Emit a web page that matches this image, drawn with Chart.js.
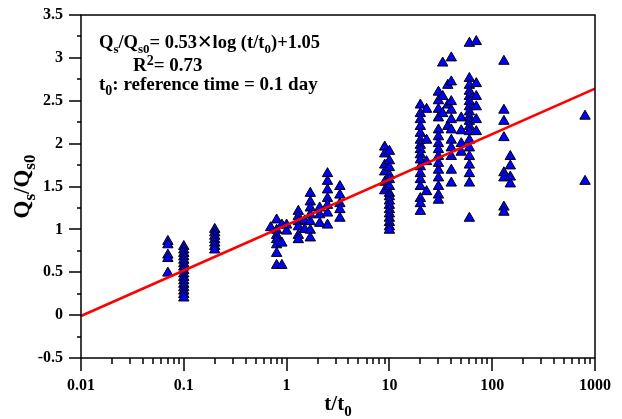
<!DOCTYPE html>
<html>
<head>
<meta charset="utf-8">
<script src="https://cdn.jsdelivr.net/npm/chart.js@4"></script>
<style>
  html, body { margin: 0; padding: 0; background: #fff; }
  #wrap { width: 622px; height: 419px; }
</style>
</head>
<body>
<div id="wrap"><canvas id="chart" width="622" height="419"></canvas></div>
<script>
// t/t0 of each measured column
const tValues = [0.07, 0.1, 0.2, 0.7, 0.8, 0.9, 1, 1.3, 1.5, 1.7, 2.1, 2.5, 3.3,
  9, 10, 20, 23, 30, 33, 37, 40, 50, 60, 70, 130, 150, 800];

// Qs/Qs0 readings for each column above
const qValues = [
  [0.86, 0.82, 0.7, 0.66, 0.49],
  [0.8, 0.76, 0.72, 0.68, 0.64, 0.6, 0.56, 0.52, 0.48, 0.44, 0.4, 0.36, 0.32, 0.28, 0.24, 0.2],
  [1.0, 0.96, 0.92, 0.88, 0.84, 0.8, 0.76],
  [1.02],
  [1.11, 0.99, 0.93, 0.88, 0.82, 0.72, 0.58],
  [1.05, 0.84, 0.58],
  [1.05, 0.98],
  [1.21, 1.15, 1.09, 1.03, 0.93, 0.88],
  [1.1, 1.0],
  [1.42, 1.32, 1.25, 1.17, 1.09, 0.99, 0.9],
  [1.25, 1.17, 1.07],
  [1.65, 1.56, 1.46, 1.36, 1.28, 1.19, 1.05],
  [1.5, 1.4, 1.3, 1.23, 1.13],
  [1.96, 1.88, 1.75, 1.67, 1.55, 1.45],
  [1.91, 1.8, 1.72, 1.63, 1.58, 1.5, 1.42, 1.38, 1.33, 1.28, 1.23, 1.18, 1.13, 1.08, 1.03, 0.99],
  [2.45, 2.35, 2.28, 2.2, 2.12, 2.04, 1.98, 1.93, 1.87, 1.81, 1.73, 1.65, 1.58, 1.5, 1.36, 1.3, 1.21],
  [2.4, 2.04, 1.79, 1.44],
  [2.6, 2.5, 2.4, 2.3, 2.16, 2.08, 2.0, 1.93, 1.85, 1.77, 1.69, 1.6, 1.5, 1.4, 1.34],
  [2.94, 2.55, 2.35],
  [2.68, 2.45, 2.2],
  [3.0, 2.72, 2.49, 2.39, 2.28, 2.16, 2.04, 1.95, 1.85, 1.69, 1.54],
  [2.3, 2.15, 2.0, 1.9],
  [3.17, 2.76, 2.68, 2.61, 2.55, 2.49, 2.43, 2.37, 2.31, 2.26, 2.2, 2.14, 2.04, 1.95, 1.85, 1.75, 1.65, 1.54, 1.13],
  [3.19, 2.7, 2.55, 2.43, 2.28, 2.14],
  [2.96, 2.39, 2.26, 2.07, 1.66, 1.6, 1.26, 1.2],
  [1.85, 1.74, 1.61, 1.53],
  [2.32, 1.56]
];

// regression line end points
const fitT = [0.01, 1000];
const fitQ = [-0.01, 2.64];

const xTickLabels = [0.01, 0.1, 1, 10, 100, 1000];
const yTickLabels = [-0.5, 0, 0.5, 1, 1.5, 2, 2.5, 3, 3.5];

const FONT = '"Liberation Serif", "Times New Roman", serif';

const points = [];
tValues.forEach((t, i) => {
  qValues[i].forEach((q) => points.push({ x: t, y: q }));
});

// draws a run of text pieces: [text, "n" | "sub" | "sup" | "x"]
function fontFor(kind, size) {
  if (kind === "x") return "bold " + size + 'px "DejaVu Sans", sans-serif';
  return "bold " + (kind === "n" ? size : Math.round(size * 0.72)) + "px " + FONT;
}

function richText(ctx, parts, x, y, size, center) {
  let total = 0;
  parts.forEach(([txt, kind]) => {
    ctx.font = fontFor(kind, size);
    total += ctx.measureText(txt).width;
  });
  let cx = center ? x - total / 2 : x;
  parts.forEach(([txt, kind]) => {
    ctx.font = fontFor(kind, size);
    let dy = 0;
    if (kind === "sub") dy = size * 0.28;
    if (kind === "sup") dy = -size * 0.32;
    ctx.fillText(txt, cx, y + dy);
    cx += ctx.measureText(txt).width;
  });
}

function noPad(s) {
  s.paddingLeft = 0;
  s.paddingRight = 0;
  s.paddingTop = 0;
  s.paddingBottom = 0;
}

const framePlugin = {
  id: "frame",
  afterDraw(chart) {
    const ctx = chart.ctx;
    const { left, right, top, bottom } = chart.chartArea;
    const xs = chart.scales.x;
    const ys = chart.scales.y;
    ctx.save();
    ctx.strokeStyle = "#000";
    ctx.lineWidth = 1.5;
    ctx.strokeRect(Math.round(left), Math.round(top),
      Math.round(right - left), Math.round(bottom - top));

    ctx.beginPath();
    // y ticks
    for (let v = -0.5; v <= 3.5001; v += 0.25) {
      const py = Math.round(ys.getPixelForValue(v));
      const major = Math.abs(v * 2 - Math.round(v * 2)) < 1e-6;
      ctx.moveTo(left - (major ? 12 : 4), py);
      ctx.lineTo(left, py);
    }
    // x ticks
    for (let e = -2; e <= 3; e++) {
      for (let k = 1; k <= 9; k++) {
        const v = k * Math.pow(10, e);
        if (v > 1000.0001) break;
        const px = Math.round(xs.getPixelForValue(v));
        ctx.moveTo(px, bottom);
        ctx.lineTo(px, bottom + (k === 1 ? 13 : 6));
      }
    }
    ctx.stroke();

    ctx.fillStyle = "#000";
    ctx.textBaseline = "alphabetic";
    ctx.textAlign = "left";
    richText(ctx, [["Q", "n"], ["s", "sub"], ["/Q", "n"], ["s0", "sub"], ["= 0.53", "n"],
      ["\u2715", "x"], ["log (t/t", "n"], ["0", "sub"], [")+1.05", "n"]], 99, 48, 18.5);
    richText(ctx, [["R", "n"], ["2", "sup"], ["= 0.73", "n"]], 133, 71, 19);
    richText(ctx, [["t", "n"], ["0", "sub"], [": reference time = 0.1 day", "n"]], 99, 90, 19);

    // axis titles
    richText(ctx, [["t/t", "n"], ["0", "sub"]], (left + right) / 2, 410, 21, true);
    ctx.translate(29, (top + bottom) / 2);
    ctx.rotate(-Math.PI / 2);
    richText(ctx, [["Q", "n"], ["s", "sub"], ["/Q", "n"], ["s0", "sub"]], 0, 0, 23, true);
    ctx.restore();
  }
};

new Chart(document.getElementById("chart"), {
  type: "scatter",
  data: {
    datasets: [
      {
        type: "line",
        data: fitT.map((t, i) => ({ x: t, y: fitQ[i] })),
        borderColor: "#ff0000",
        borderWidth: 2.5,
        pointRadius: 0,
        order: 0
      },
      {
        data: points,
        pointStyle: "triangle",
        pointRadius: 6,
        backgroundColor: "#0000ff",
        borderColor: "#000",
        borderWidth: 1,
        order: 1
      }
    ]
  },
  options: {
    responsive: false,
    animation: false,
    devicePixelRatio: 1,
    layout: { padding: { top: 15, right: 27, left: 0, bottom: 0 } },
    plugins: { legend: { display: false }, tooltip: { enabled: false } },
    scales: {
      x: {
        type: "logarithmic",
        min: 0.01,
        max: 1000,
        grid: { display: false },
        border: { display: false },
        afterBuildTicks: (s) => { s.ticks = xTickLabels.map((v) => ({ value: v })); },
        afterFit: (s) => { s.height = 61; noPad(s); },
        ticks: {
          color: "#000",
          padding: 10,
          maxRotation: 0,
          autoSkip: false,
          font: { family: FONT, size: 16, weight: "bold" },
          callback: (v) => String(v)
        }
      },
      y: {
        min: -0.5,
        max: 3.5,
        grid: { display: false },
        border: { display: false },
        afterBuildTicks: (s) => { s.ticks = yTickLabels.map((v) => ({ value: v })); },
        afterFit: (s) => { s.width = 81; noPad(s); },
        ticks: {
          color: "#000",
          padding: 10,
          font: { family: FONT, size: 16, weight: "bold" },
          callback: (v) => String(v)
        }
      }
    }
  },
  plugins: [framePlugin]
});
</script>
</body>
</html>
